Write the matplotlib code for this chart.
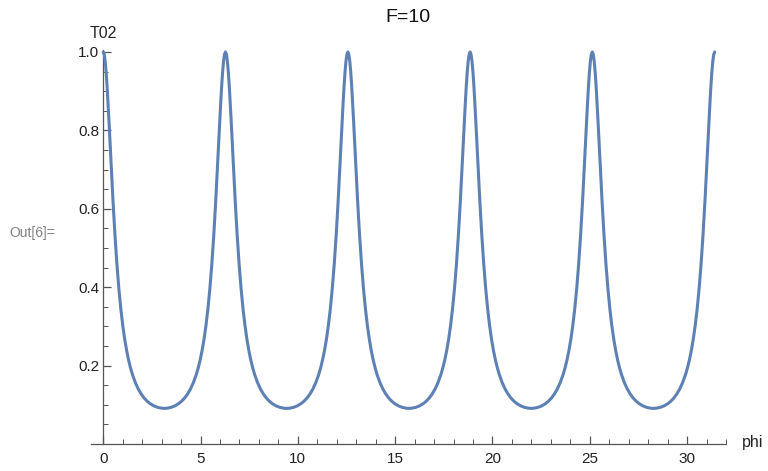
import matplotlib
matplotlib.use("Agg")
import matplotlib.pyplot as plt
from matplotlib.ticker import MultipleLocator, FixedLocator

plt.rcParams['font.family'] = ['Liberation Sans', 'DejaVu Sans']

title = "F=10"
x_label = "phi"
y_label = "T02"

# phi positions of the transmission peaks (T02 = 1)
peak_phi = [0.00, 6.28, 12.57, 18.85, 25.13, 31.42]

# shape of one half-peak: distance from peak -> T02
half_offset = [0.00, 0.05, 0.10, 0.15, 0.20, 0.25, 0.30, 0.35, 0.40, 0.45, 0.50, 0.55,
               0.60, 0.65, 0.70, 0.75, 0.80, 0.90, 1.00, 1.10, 1.20, 1.30, 1.40, 1.50,
               1.65, 1.80, 1.95, 2.10, 2.25, 2.40, 2.60, 2.80, 3.00, 3.1416]
half_t02 = [1.0000, 0.9938, 0.9756, 0.9468, 0.9094, 0.8655, 0.8175, 0.7674, 0.7170, 0.6677,
            0.6203, 0.5756, 0.5338, 0.4952, 0.4596, 0.4271, 0.3974, 0.3458, 0.3032, 0.2680,
            0.2388, 0.2145, 0.1942, 0.1771, 0.1564, 0.1401, 0.1274, 0.1173, 0.1094, 0.1032,
            0.0972, 0.0934, 0.0913, 0.0909]

x_major = [0, 5, 10, 15, 20, 25, 30]
y_major = [0.2, 0.4, 0.6, 0.8, 1.0]

# assemble the curve: falling side after each peak, rising side before the next
phi, t02 = [], []
for p0, p1 in zip(peak_phi[:-1], peak_phi[1:]):
    for d, v in zip(half_offset, half_t02):
        phi.append(p0 + d)
        t02.append(v)
    for d, v in zip(reversed(half_offset[:-1]), reversed(half_t02[:-1])):
        phi.append(p1 - d)
        t02.append(v)

fig = plt.figure(figsize=(7.68, 4.71), dpi=100)
ax = fig.add_axes([91 / 768, 27 / 471, 635 / 768, 394 / 471])

ax.plot(phi, t02, color='#5E81B5', lw=2.2, solid_capstyle='round', solid_joinstyle='round', zorder=3)

ax.set_xlim(-0.63, 32.0)
ax.set_ylim(0.0, 1.005)

axis_col = '#555555'
for s in ['top', 'right']:
    ax.spines[s].set_visible(False)
ax.spines['left'].set_position(('data', 0))
ax.spines['bottom'].set_position(('data', 0))
ax.spines['left'].set_color(axis_col)
ax.spines['bottom'].set_color(axis_col)
ax.spines['left'].set_linewidth(0.9)
ax.spines['bottom'].set_linewidth(0.9)

ax.xaxis.set_major_locator(FixedLocator(x_major))
ax.xaxis.set_minor_locator(MultipleLocator(1))
ax.yaxis.set_major_locator(FixedLocator(y_major))
ax.yaxis.set_minor_locator(MultipleLocator(0.05))
ax.set_xticklabels([str(v) for v in x_major])
ax.set_yticklabels([f"{v:.1f}" for v in y_major])

ax.tick_params(axis='both', which='major', direction='in', length=6, width=0.9,
               color=axis_col, labelsize=11, labelcolor='#222222')
ax.tick_params(axis='both', which='minor', direction='in', length=3.5, width=0.7,
               color=axis_col)
ax.tick_params(axis='x', which='major', pad=6)
ax.tick_params(axis='y', which='major', pad=3)

fig.text(103.5 / 768, 1 - 34 / 471, y_label, ha='center', va='center', fontsize=11.5, color='#222222')
fig.text(742 / 768, 1 - 443 / 471, x_label, ha='left', va='center', fontsize=11.5, color='#222222')
fig.text(408 / 768, 1 - 17 / 471, title, ha='center', va='center', fontsize=14, color='#111111')
fig.text(9 / 768, 1 - 233 / 471, "Out[6]=", ha='left', va='center', fontsize=10, color='#808080')

fig.savefig("out.png", dpi=100)
